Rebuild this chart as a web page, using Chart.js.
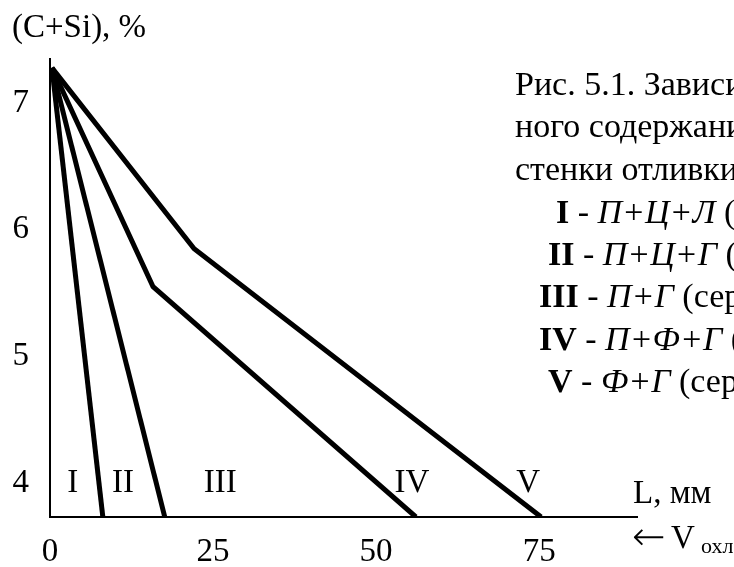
<!DOCTYPE html>
<html>
<head>
<meta charset="utf-8">
<title>Рис. 5.1</title>
<script src="https://cdn.jsdelivr.net/npm/chart.js@4.4.1/dist/chart.umd.min.js"></script>
<style>
  html, body { margin: 0; padding: 0; background: #fff; }
  #wrap { width: 734px; height: 567px; position: relative; }
</style>
</head>
<body>
<div id="wrap"><canvas id="chart-structure"></canvas></div>
<script>
// tick values
const xTicks = [0, 25, 50, 75];
const yTicks = [4, 5, 6, 7];

// boundary lines between structure zones, L (mm) and (C+Si) (%)
const lineAX = [0.3, 8.1];
const lineAY = [7.28, 3.73];
const lineBX = [0.3, 17.6];
const lineBY = [7.28, 3.73];
const lineCX = [0.3, 15.8, 56.1];
const lineCY = [7.28, 5.55, 3.73];
const lineDX = [0.3, 22.1, 75.3];
const lineDY = [7.28, 5.85, 3.73];

// zone names
const zoneNames = ["I", "II", "III", "IV", "V"];

const serif = "'Liberation Serif', 'Times New Roman', serif";

function toPoints(xs, ys) {
  return xs.map((x, i) => ({ x: x, y: ys[i] }));
}

function boundary(xs, ys) {
  return {
    data: toPoints(xs, ys),
    borderColor: "#000",
    borderWidth: 5,
    borderCapStyle: "butt",
    borderJoinStyle: "miter",
    pointRadius: 0,
    tension: 0,
    fill: false
  };
}

// draws one line of text made of pieces in different styles
function drawRow(ctx, x, y, pieces, size) {
  let cx = x;
  pieces.forEach(p => {
    ctx.font = p[1] + " " + size + "px " + serif;
    ctx.fillText(p[0], cx, y);
    cx += ctx.measureText(p[0]).width;
  });
}

const labelsPlugin = {
  id: "labels",
  afterDraw(chart) {
    const ctx = chart.ctx;
    const area = chart.chartArea;
    const sx = chart.scales.x;
    const sy = chart.scales.y;
    ctx.save();
    ctx.fillStyle = "#000";

    // axis titles
    ctx.textAlign = "left";
    ctx.textBaseline = "alphabetic";
    ctx.font = "33px " + serif;
    ctx.fillText("(C+Si), %", 12, 37);
    ctx.fillText("L, мм", area.right - 4, 503);

    ctx.textBaseline = "middle";
    ctx.font = "200 40px 'DejaVu Sans', sans-serif";
    ctx.fillText("\u2190", area.right - 5, 540);
    ctx.textBaseline = "alphabetic";
    ctx.font = "33px " + serif;
    ctx.fillText("V", 671, 548);
    ctx.font = "22px " + serif;
    ctx.fillText("охл", 701, 553);

    // zone names near the bottom
    const zoneAt = [3.5, 11.2, 26.1, 55.5, 73.3];
    ctx.font = "33px " + serif;
    ctx.textAlign = "center";
    ctx.textBaseline = "middle";
    zoneNames.forEach((n, i) => {
      ctx.fillText(n, sx.getPixelForValue(zoneAt[i]), sy.getPixelForValue(4.0));
    });

    // caption (cut by the right edge)
    ctx.textAlign = "left";
    ctx.textBaseline = "alphabetic";
    const sz = 34;
    drawRow(ctx, 515, 95, [["Рис. 5.1. Зависимость", ""]], sz);
    drawRow(ctx, 515, 137, [["ного содержания", ""]], sz);
    drawRow(ctx, 515, 180, [["стенки отливки:", ""]], sz);
    drawRow(ctx, 556, 223, [["I", "bold"], [" - ", ""], ["П+Ц+Л", "italic"], [" (белый)", ""]], sz);
    drawRow(ctx, 548, 265, [["II", "bold"], [" - ", ""], ["П+Ц+Г", "italic"], [" (половинчатый)", ""]], sz);
    drawRow(ctx, 539, 307, [["III", "bold"], [" - ", ""], ["П+Г", "italic"], [" (серый)", ""]], sz);
    drawRow(ctx, 539, 350, [["IV", "bold"], [" - ", ""], ["П+Ф+Г", "italic"], [" (серый)", ""]], sz);
    drawRow(ctx, 548, 392, [["V", "bold"], [" - ", ""], ["Ф+Г", "italic"], [" (серый)", ""]], sz);

    ctx.restore();
  }
};

new Chart(document.getElementById("chart-structure"), {
  type: "line",
  data: {
    datasets: [
      boundary(lineAX, lineAY),
      boundary(lineBX, lineBY),
      boundary(lineCX, lineCY),
      boundary(lineDX, lineDY)
    ]
  },
  options: {
    responsive: true,
    maintainAspectRatio: false,
    animation: false,
    layout: { padding: { top: 59, right: 97, left: 0, bottom: 0 } },
    plugins: {
      legend: { display: false },
      tooltip: { enabled: false }
    },
    scales: {
      x: {
        type: "linear",
        min: 0,
        max: 90,
        afterBuildTicks: s => { s.ticks = xTicks.map(v => ({ value: v })); },
        afterFit: s => { s.height = 50; },
        grid: { display: false, drawTicks: false },
        border: { display: true, color: "#000", width: 2 },
        ticks: {
          color: "#000",
          padding: 16,
          maxRotation: 0,
          font: { family: serif, size: 33 }
        }
      },
      y: {
        type: "linear",
        min: 3.73,
        max: 7.35,
        afterBuildTicks: s => { s.ticks = yTicks.map(v => ({ value: v })); },
        afterFit: s => { s.width = 50; },
        grid: { display: false, drawTicks: false },
        border: { display: true, color: "#000", width: 2 },
        ticks: {
          color: "#000",
          padding: 21,
          font: { family: serif, size: 33 }
        }
      }
    }
  },
  plugins: [labelsPlugin]
});
</script>
</body>
</html>
